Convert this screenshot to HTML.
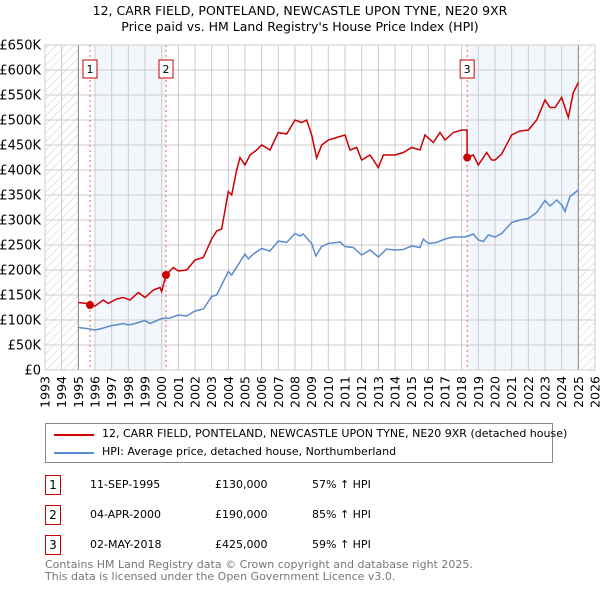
<!DOCTYPE html>
<html><head><meta charset="utf-8"><style>
body{margin:0;background:#fff;font-family:"DejaVu Sans","Liberation Sans",sans-serif;}
#wrap{position:relative;width:600px;height:590px;overflow:hidden;}
.t{position:absolute;font-size:12px;color:#000;white-space:nowrap;}
.box{position:absolute;border:1.5px solid #c00;width:14px;height:18px;font-size:12px;text-align:center;line-height:18px;background:#fff;}
</style></head><body><div id="wrap">
<div class="t" style="left:0;width:600px;text-align:center;top:3px;font-size:12.5px">12, CARR FIELD, PONTELAND, NEWCASTLE UPON TYNE, NE20 9XR</div>
<div class="t" style="left:0;width:600px;text-align:center;top:19px;font-size:12.5px">Price paid vs. HM Land Registry's House Price Index (HPI)</div>
<svg id="chart" width="600" height="420" style="position:absolute;left:0;top:0"></svg>
<div style="position:absolute;left:45px;top:423px;width:506px;height:38px;border:1px solid #888;">
<div style="position:absolute;left:8px;top:10px;width:40px;height:2px;background:#c00"></div>
<div class="t" style="left:56px;top:3px;font-size:11px">12, CARR FIELD, PONTELAND, NEWCASTLE UPON TYNE, NE20 9XR (detached house)</div>
<div style="position:absolute;left:8px;top:28px;width:40px;height:2px;background:#5b8bd0"></div>
<div class="t" style="left:56px;top:21px;font-size:11px">HPI: Average price, detached house, Northumberland</div>
</div>
<div class="box" style="left:45px;top:475px">1</div>
<div class="t" style="left:90px;top:478px;font-size:11px">11-SEP-1995</div>
<div class="t" style="left:215px;top:478px;font-size:11px">£130,000</div>
<div class="t" style="left:312px;top:478px;font-size:11px">57% ↑ HPI</div>
<div class="box" style="left:45px;top:505px">2</div>
<div class="t" style="left:90px;top:508px;font-size:11px">04-APR-2000</div>
<div class="t" style="left:215px;top:508px;font-size:11px">£190,000</div>
<div class="t" style="left:312px;top:508px;font-size:11px">85% ↑ HPI</div>
<div class="box" style="left:45px;top:535px">3</div>
<div class="t" style="left:90px;top:538px;font-size:11px">02-MAY-2018</div>
<div class="t" style="left:215px;top:538px;font-size:11px">£425,000</div>
<div class="t" style="left:312px;top:538px;font-size:11px">59% ↑ HPI</div>
<div class="t" style="left:45px;top:559px;font-size:11px;color:#777;line-height:12px">Contains HM Land Registry data © Crown copyright and database right 2025.<br>This data is licensed under the Open Government Licence v3.0.</div>
</div>
<script>
const yTicks=[0,50,100,150,200,250,300,350,400,450,500,550,600,650];
const yLabels=["£0","£50K","£100K","£150K","£200K","£250K","£300K","£350K","£400K","£450K","£500K","£550K","£600K","£650K"];
const years=[1993,1994,1995,1996,1997,1998,1999,2000,2001,2002,2003,2004,2005,2006,2007,2008,2009,2010,2011,2012,2013,2014,2015,2016,2017,2018,2019,2020,2021,2022,2023,2024,2025,2026];
const saleDates=[1995.7,2000.26,2018.33];
const salePrices=[130,190,425];
const saleLabels=["1","2","3"];
const hpiT=[1995,1995.5,1996,1996.3,1996.9,1997.7,1998,1998.3,1999,1999.3,2000,2000.5,2001,2001.5,2002,2002.5,2003,2003.3,2004,2004.2,2005,2005.2,2005.5,2006,2006.5,2007,2007.5,2008,2008.3,2008.5,2009,2009.25,2009.6,2010,2010.7,2011,2011.5,2012,2012.5,2013,2013.5,2014,2014.5,2015,2015.5,2015.7,2016,2016.5,2017,2017.5,2018,2018.33,2018.7,2019,2019.3,2019.6,2020,2020.4,2021,2021.5,2022,2022.5,2023,2023.3,2023.7,2024,2024.2,2024.5,2025];
const hpiV=[85,83,80,82,88,93,90,92,99,93,103,104,110,108,118,122,147,150,197,190,232,222,232,243,238,258,255,273,268,272,253,228,247,253,256,247,245,230,240,226,242,240,241,248,245,262,253,255,262,266,266,267,272,260,257,270,266,273,295,300,303,315,339,328,340,330,317,347,360];
const redT=[1995,1995.5,1995.7,1996,1996.5,1996.8,1997.3,1997.7,1998.1,1998.6,1999,1999.5,1999.9,2000,2000.26,2000.7,2001,2001.5,2002,2002.5,2003,2003.3,2003.6,2004,2004.2,2004.5,2004.7,2005,2005.3,2005.7,2006,2006.5,2007,2007.5,2008,2008.4,2008.7,2009,2009.3,2009.6,2010,2010.5,2011,2011.3,2011.7,2012,2012.5,2013,2013.3,2014,2014.5,2015,2015.5,2015.8,2016.3,2016.7,2017,2017.5,2018,2018.32,2018.33,2018.7,2019,2019.5,2019.8,2020,2020.4,2021,2021.5,2022,2022.5,2023,2023.3,2023.6,2024,2024.4,2024.7,2025];
const redV=[135,133,130,128,140,133,142,145,140,155,145,160,165,157,190,205,198,200,220,225,262,278,282,357,350,400,425,410,430,440,450,440,475,472,500,495,500,470,424,450,460,465,470,440,445,420,430,405,430,430,435,445,440,470,455,475,460,475,480,480,425,430,410,435,420,420,432,470,478,480,500,540,525,525,545,505,555,575];
const svg=document.getElementById('chart');const NS='http://www.w3.org/2000/svg';
const X0=45,X1=595,Y0=370,Y1=45;
const xs=t=>X0+(t-1993)/(2026-1993)*(X1-X0);
const ys=v=>Y0-v/650*(Y0-Y1);
function mk(tag,a,parent){const e=document.createElementNS(NS,tag);for(const k in a)e.setAttribute(k,a[k]);(parent||svg).appendChild(e);return e;}
const defs=mk('defs',{});
const pat=mk('pattern',{id:'hatch',width:6,height:6,patternUnits:'userSpaceOnUse',patternTransform:'rotate(45)'},defs);
mk('line',{x1:0,y1:0,x2:0,y2:6,stroke:'#ccc','stroke-width':1},pat);
let r=mk('rect',{x:X0,y:Y1,width:xs(1995)-X0,height:Y0-Y1,fill:'url(#hatch)'});

r=mk('rect',{x:xs(2025),y:Y1,width:X1-xs(2025),height:Y0-Y1,fill:'url(#hatch)'});

r=mk('rect',{x:xs(1996),y:Y1,width:xs(saleDates[1])-xs(1996),height:Y0-Y1,fill:'#f2f6fd'});

r=mk('rect',{x:xs(saleDates[2]),y:Y1,width:xs(2025)-xs(saleDates[2]),height:Y0-Y1,fill:'#f2f6fd'});

yTicks.forEach((v,i)=>{const l=mk('line',{x1:X0,x2:X1,y1:ys(v),y2:ys(v),stroke:'#ccc'});

const t=mk('text',{x:X0-4,y:ys(v)+4.5,'text-anchor':'end','font-size':13,'font-family':'DejaVu Sans, sans-serif'});t.textContent=yLabels[i];
});
years.forEach(y=>{const l=mk('line',{x1:xs(y),x2:xs(y),y1:Y1,y2:Y0,stroke:'#ccc'});

const t=mk('text',{x:0,y:0,'text-anchor':'end','font-size':12.5,'font-family':'DejaVu Sans, sans-serif',transform:`translate(${xs(y)+4.5},${Y0+6}) rotate(-90)`});t.textContent=y;
});
[1995,2025].forEach(y=>{const l=mk('line',{x1:xs(y),x2:xs(y),y1:Y1,y2:Y0,stroke:'#888'});
});
saleDates.forEach((d,i)=>{const l=mk('line',{x1:xs(d),x2:xs(d),y1:Y1,y2:Y0,stroke:'#e66','stroke-dasharray':'2,3'});

const b=mk('rect',{x:xs(d)-7,y:60,width:14,height:18,fill:'#fff',stroke:'#c00'});

const t=mk('text',{x:xs(d),y:73,'text-anchor':'middle','font-size':11,'font-family':'DejaVu Sans, sans-serif'});t.textContent=saleLabels[i];
});
const p1=mk('polyline',{points:hpiT.map((t,i)=>xs(t)+','+ys(hpiV[i])).join(' '),fill:'none',stroke:'#5b8bd0','stroke-width':1.5});

const p2=mk('polyline',{points:redT.map((t,i)=>xs(t)+','+ys(redV[i])).join(' '),fill:'none',stroke:'#c00','stroke-width':1.5});

saleDates.forEach((d,i)=>{const c=mk('circle',{cx:xs(d),cy:ys(salePrices[i]),r:4,fill:'#c00'});
});
const fr=mk('rect',{x:X0,y:Y1,width:X1-X0,height:Y0-Y1,fill:'none',stroke:'#ccc'});

</script></body></html>
